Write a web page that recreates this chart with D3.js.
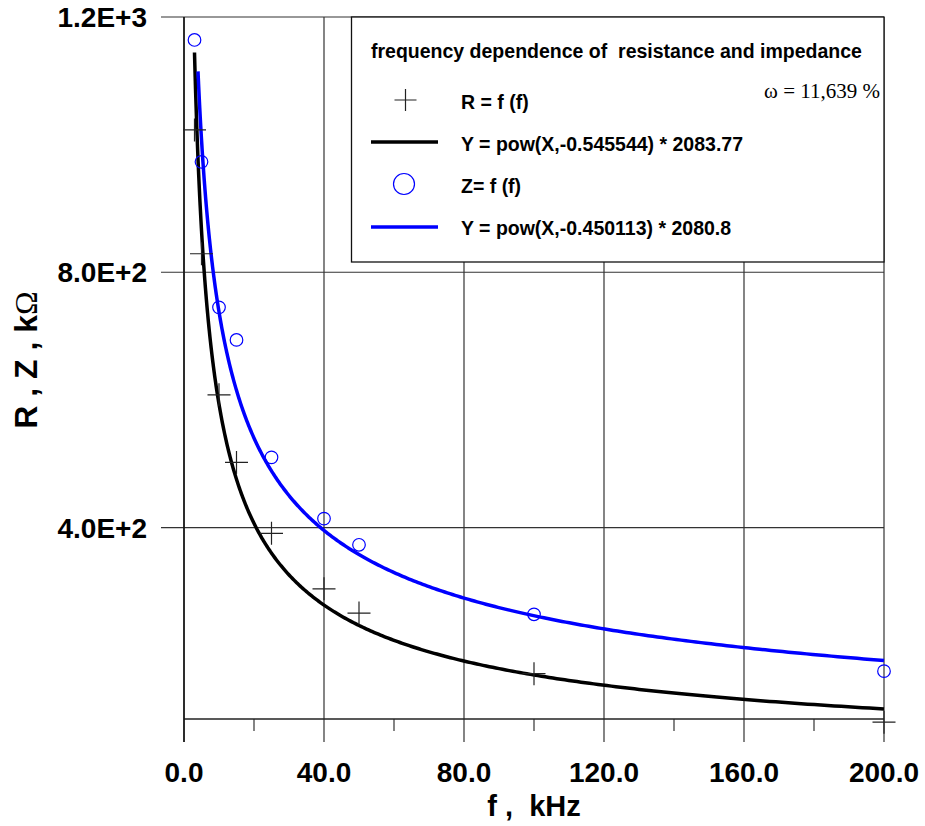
<!DOCTYPE html>
<html>
<head>
<meta charset="utf-8">
<script src="https://cdn.jsdelivr.net/npm/d3@7"></script>
<style>
  html, body { margin: 0; padding: 0; background: #fff; }
  svg { display: block; }
  text { font-family: "Liberation Sans", Arial, sans-serif; }
  .serif { font-family: "Liberation Serif", "Times New Roman", serif; font-weight: normal; }
</style>
</head>
<body>
<svg id="chart" width="925" height="826"></svg>
<script>
// ---- data ----
const freq = [3, 5, 10, 15, 25, 40, 50, 100, 200];            // f, kHz
const rValues = [1023, 829, 608, 502, 391, 304, 266, 171, 95]; // R, kOhm
const zValues = [1164, 973, 745, 694, 510, 414, 373, 264, 175];// Z, kOhm
const xTicks = [0, 40, 80, 120, 160, 200];
const xTickLabels = ["0.0", "40.0", "80.0", "120.0", "160.0", "200.0"];
const xMinorTicks = [20, 60, 100, 140, 180];
const yTicks = [400, 800, 1200];
const yTickLabels = ["4.0E+2", "8.0E+2", "1.2E+3"];
// power fits shown in the legend: Y = pow(X, b) * a
const rFitA = 2083.77, rFitB = -0.545544;
const zFitA = 2080.8, zFitB = -0.450113;
const rFitRange = [3, 200];
const zFitRange = [4, 200];
const legendTitle = "frequency dependence of  resistance and impedance";
const legendLabels = ["R = f (f)", "Y = pow(X,-0.545544) * 2083.77", "Z= f (f)", "Y = pow(X,-0.450113) * 2080.8"];
const omegaText = "\u03c9 = 11,639 %";

// ---- layout ----
const svg = d3.select("#chart");
const pLeft = 184, pRight = 884, pTop = 17, pBottom = 719;
const x = d3.scaleLinear().domain([0, 200]).range([pLeft, pRight]);
const y = d3.scaleLinear().domain([100, 1200]).range([pBottom, pTop]);
const gridColor = "#333";

// horizontal grid lines (extend left as ticks)
svg.append("g").selectAll("line").data(yTicks).join("line")
  .attr("x1", pLeft - 23).attr("x2", pRight)
  .attr("y1", d => y(d)).attr("y2", d => y(d))
  .attr("stroke", gridColor).attr("stroke-width", 1.2);

// vertical grid lines (extend down as ticks)
svg.append("g").selectAll("line").data(xTicks).join("line")
  .attr("x1", d => x(d)).attr("x2", d => x(d))
  .attr("y1", pTop).attr("y2", pBottom + 23)
  .attr("stroke", gridColor).attr("stroke-width", 1.2);

// minor x ticks
svg.append("g").selectAll("line").data(xMinorTicks).join("line")
  .attr("x1", d => x(d)).attr("x2", d => x(d))
  .attr("y1", pBottom).attr("y2", pBottom + 12)
  .attr("stroke", gridColor).attr("stroke-width", 1.2);

// axis lines
svg.append("line").attr("x1", pLeft).attr("x2", pRight).attr("y1", pBottom).attr("y2", pBottom)
  .attr("stroke", "#222").attr("stroke-width", 1.3);
svg.append("line").attr("x1", pLeft).attr("x2", pLeft).attr("y1", pTop).attr("y2", pBottom + 23)
  .attr("stroke", "#111").attr("stroke-width", 1.5);

// tick labels
svg.append("g").selectAll("text").data(xTicks).join("text")
  .attr("x", d => x(d)).attr("y", 782)
  .attr("text-anchor", "middle")
  .attr("font-size", 28).attr("font-weight", "bold")
  .text((d, i) => xTickLabels[i]);

svg.append("g").selectAll("text").data(yTicks).join("text")
  .attr("x", 147).attr("y", d => y(d) + 10)
  .attr("text-anchor", "end")
  .attr("font-size", 28).attr("font-weight", "bold")
  .text((d, i) => yTickLabels[i]);

// axis titles
svg.append("text").attr("x", (pLeft + pRight) / 2).attr("y", 816)
  .attr("text-anchor", "middle").attr("font-size", 29).attr("font-weight", "bold")
  .style("white-space", "pre").text("f ,  kHz");

const yTitle = svg.append("text")
  .attr("transform", "translate(37,360) rotate(-90)")
  .attr("text-anchor", "middle").attr("font-size", 32).attr("font-weight", "bold");
yTitle.append("tspan").text("R , Z , k");
yTitle.append("tspan").attr("class", "serif").text("\u03a9");

// fitted curves
function fitPoints(a, b, range) {
  const pts = [];
  const n = 400;
  for (let i = 0; i <= n; i++) {
    const t = i / n;
    const xv = Math.exp(Math.log(range[0]) + t * (Math.log(range[1]) - Math.log(range[0])));
    pts.push([xv, a * Math.pow(xv, b)]);
  }
  return pts;
}
const line = d3.line().x(d => x(d[0])).y(d => y(d[1]));
svg.append("path").datum(fitPoints(rFitA, rFitB, rFitRange))
  .attr("d", line).attr("fill", "none").attr("stroke", "#000").attr("stroke-width", 3.5);
svg.append("path").datum(fitPoints(zFitA, zFitB, zFitRange))
  .attr("d", line).attr("fill", "none").attr("stroke", "#0000ff").attr("stroke-width", 3.5);

// R markers (plus)
const plusSize = 11.5;
function plusPath(cx, cy, s) {
  return `M${cx - s},${cy}H${cx + s}M${cx},${cy - s}V${cy + s}`;
}
svg.append("g").selectAll("path").data(freq).join("path")
  .attr("d", (d, i) => plusPath(x(d), y(rValues[i]), plusSize))
  .attr("stroke", "#222").attr("stroke-width", 1.2).attr("fill", "none");

// Z markers (circles)
svg.append("g").selectAll("circle").data(freq).join("circle")
  .attr("cx", d => x(d)).attr("cy", (d, i) => y(zValues[i])).attr("r", 6.3)
  .attr("fill", "none").attr("stroke", "#0000ff").attr("stroke-width", 1.2);

// legend
const lg = svg.append("g");
lg.append("rect").attr("x", 351.5).attr("y", 17).attr("width", 884 - 351.5).attr("height", 262 - 17)
  .attr("fill", "#fff").attr("stroke", "#111").attr("stroke-width", 1.3);
lg.append("text").attr("x", 371).attr("y", 58).attr("font-size", 19.5).attr("font-weight", "bold")
  .style("white-space", "pre").text(legendTitle);
lg.append("text").attr("class", "serif").attr("x", 880).attr("y", 98).attr("text-anchor", "end")
  .attr("font-size", 21).text(omegaText);
const rowY = [100, 142, 184, 227];
const textY = [109, 151, 193, 235];
lg.append("path").attr("d", plusPath(405.5, rowY[0], 11)).attr("stroke", "#222").attr("stroke-width", 1.2);
lg.append("line").attr("x1", 371).attr("x2", 438).attr("y1", rowY[1]).attr("y2", rowY[1])
  .attr("stroke", "#000").attr("stroke-width", 3.5);
lg.append("circle").attr("cx", 404).attr("cy", rowY[2]).attr("r", 10.5)
  .attr("fill", "none").attr("stroke", "#0000ff").attr("stroke-width", 1.2);
lg.append("line").attr("x1", 371).attr("x2", 438).attr("y1", rowY[3]).attr("y2", rowY[3])
  .attr("stroke", "#0000ff").attr("stroke-width", 3.5);
lg.selectAll("text.lbl").data(legendLabels).join("text").attr("class", "lbl")
  .attr("x", 461).attr("y", (d, i) => textY[i])
  .attr("font-size", 19.5).attr("font-weight", "bold").text(d => d);
</script>
</body>
</html>
